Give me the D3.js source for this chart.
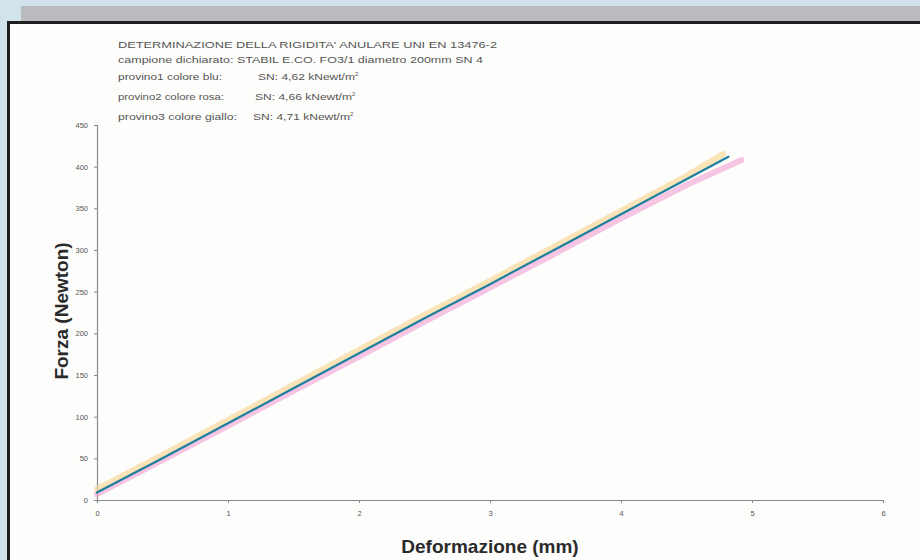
<!DOCTYPE html>
<html>
<head>
<meta charset="utf-8">
<script src="https://cdn.jsdelivr.net/npm/d3@7"></script>
<style>
  html, body { margin: 0; padding: 0; background: #d3e3ec; }
  svg { display: block; }
</style>
</head>
<body>
<div class="chart"></div>
<script>
// dati (Deformazione mm -> Forza N)
const xTicks = [0, 1, 2, 3, 4, 5, 6];
const yTicks = [0, 50, 100, 150, 200, 250, 300, 350, 400, 450];

const blueX = [0, 0.5, 1, 1.5, 2, 2.5, 3, 3.5, 4, 4.5, 4.82];
const blueY = [9, 50, 92, 134, 176, 218, 259, 301, 343, 385, 412];
const pinkX = [0, 0.5, 1, 1.5, 2, 2.5, 3, 3.5, 4, 4.5, 4.92];
const pinkY = [7, 48, 89, 131, 172, 214, 255, 296, 338, 378, 408];
const yellowX = [0, 0.5, 1, 1.5, 2, 2.5, 3, 3.5, 4, 4.5, 4.78];
const yellowY = [13, 54, 96, 138, 180, 222, 263, 305, 347, 389, 415];

const noteLines = [
  "DETERMINAZIONE DELLA RIGIDITA' ANULARE UNI EN 13476-2",
  "campione dichiarato: STABIL E.CO. FO3/1 diametro 200mm SN 4"
];
const provini = ["provino1 colore blu:", "provino2 colore rosa:", "provino3 colore giallo:"];
const snValues = ["SN: 4,62 kNewt/m", "SN: 4,66 kNewt/m", "SN: 4,71 kNewt/m"];

const width = 920;
const height = 560;
const margin = { top: 125, right: 37, bottom: 60, left: 97 };
const font = 'Liberation Sans, Arial, sans-serif';

const svg = d3.select('.chart')
    .append('svg')
    .attr('width', width)
    .attr('height', height);

// cornice
svg.append('rect').attr('x', 21).attr('y', 6).attr('width', width - 21).attr('height', 16).attr('fill', '#b9bbbf');
svg.append('rect').attr('x', 7).attr('y', 21).attr('width', width - 7).attr('height', height - 21).attr('fill', '#1e1e1e');
svg.append('rect').attr('x', 10).attr('y', 24).attr('width', width - 10).attr('height', height - 24).attr('fill', '#fdfdfc');

const x = d3.scaleLinear().domain([0, 6]).range([margin.left, width - margin.right]);
const y = d3.scaleLinear().domain([0, 450]).range([height - margin.bottom, margin.top]);

// assi
const gx = svg.append('g')
    .attr('transform', `translate(0,${y(0)})`)
    .call(d3.axisBottom(x).tickValues(xTicks).tickSize(3).tickPadding(8).tickFormat(d3.format('d')));
const gy = svg.append('g')
    .attr('transform', `translate(${x(0)},0)`)
    .call(d3.axisLeft(y).tickValues(yTicks).tickSize(3).tickPadding(6));

[gx, gy].forEach(g => {
  g.select('.domain').attr('stroke', '#8a8a8a').attr('stroke-width', 1.2);
  g.selectAll('.tick line').attr('stroke', '#8a8a8a');
  g.selectAll('.tick text').attr('fill', '#555').attr('font-size', 7.5).attr('font-family', font);
});

// linee
const line = d3.line().x(d => x(d[0])).y(d => y(d[1]));
const series = [
  { xs: pinkX, ys: pinkY, color: '#f2a0d4', w: 6, o: 0.6 },
  { xs: yellowX, ys: yellowY, color: '#f8d79a', w: 6, o: 0.7 },
  { xs: blueX, ys: blueY, color: '#1f7f9f', w: 2.2, o: 1 }
];
series.forEach(s => {
  svg.append('path')
      .datum(s.xs.map((v, i) => [v, s.ys[i]]))
      .attr('fill', 'none')
      .attr('stroke', s.color)
      .attr('stroke-width', s.w)
      .attr('stroke-opacity', s.o)
      .attr('stroke-linecap', 'round')
      .attr('d', line);
});

// note
const notes = svg.append('g')
    .attr('font-family', font)
    .attr('font-size', 9)
    .attr('fill', '#555');
const noteLen = [379, 365];
notes.selectAll('text.n')
    .data(noteLines)
    .join('text')
    .attr('class', 'n')
    .attr('x', 118)
    .attr('y', (d, i) => 48 + i * 14.5)
    .attr('textLength', (d, i) => noteLen[i])
    .attr('lengthAdjust', 'spacingAndGlyphs')
    .text(d => d);
const provLen = [104, 106, 119];
notes.selectAll('text.p')
    .data(provini)
    .join('text')
    .attr('class', 'p')
    .attr('x', 118)
    .attr('y', (d, i) => 80 + i * 20)
    .attr('textLength', (d, i) => provLen[i])
    .attr('lengthAdjust', 'spacingAndGlyphs')
    .text(d => d);
const sn = notes.selectAll('text.s')
    .data(snValues)
    .join('text')
    .attr('class', 's')
    .attr('x', (d, i) => [258, 255, 253][i])
    .attr('y', (d, i) => 80 + i * 20);
sn.append('tspan')
    .attr('textLength', 97)
    .attr('lengthAdjust', 'spacingAndGlyphs')
    .text(d => d);
sn.append('tspan').attr('dy', -4).attr('font-size', 6).text('2');

// titoli assi
svg.append('text')
    .attr('x', 490)
    .attr('y', 553)
    .attr('text-anchor', 'middle')
    .attr('font-family', font)
    .attr('font-weight', 'bold')
    .attr('font-size', 19)
    .attr('fill', '#2a2a2a')
    .text('Deformazione (mm)');
svg.append('text')
    .attr('transform', 'translate(68,311) rotate(-90)')
    .attr('text-anchor', 'middle')
    .attr('font-family', font)
    .attr('font-weight', 'bold')
    .attr('font-size', 19)
    .attr('fill', '#2a2a2a')
    .text('Forza (Newton)');
</script>
</body>
</html>
